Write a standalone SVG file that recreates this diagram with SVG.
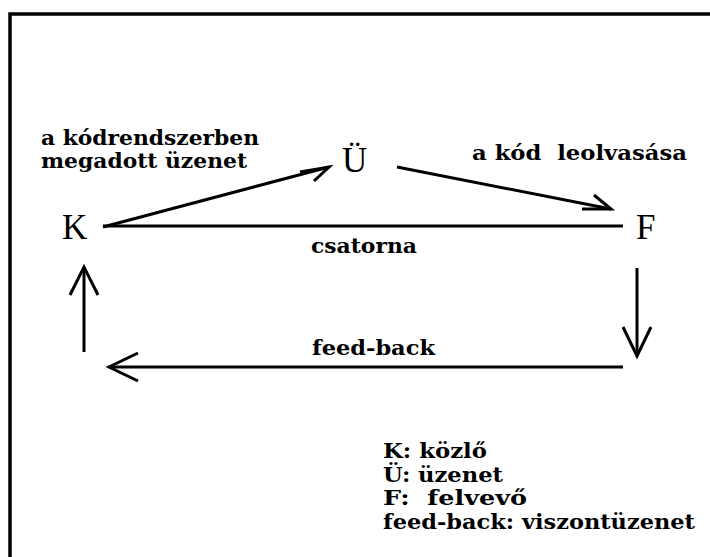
<svg xmlns="http://www.w3.org/2000/svg" width="710" height="557" viewBox="0 0 710 557">
<style>
.node{font-family:"Liberation Serif","Times New Roman",serif;font-size:35px;fill:#000}
.lbl{font-family:"DejaVu Serif",serif;font-weight:bold;font-size:19.5px;fill:#000;white-space:pre}
.ln{stroke:#000;stroke-width:3;fill:none;stroke-linecap:butt}
</style>
<rect width="710" height="557" fill="#fff"/>
<path d="M10 557 V14 H710" fill="none" stroke="#000" stroke-width="3.5"/>
<g id="connectors">
<g id="k-u"><line class="ln" x1="103" y1="227" x2="329" y2="167"/><polyline class="ln" points="300,172 329,167 314,181"/></g>
<g id="u-f"><line class="ln" x1="397" y1="167" x2="611" y2="209"/><polyline class="ln" points="594,195 611,209 582,209"/></g>
<g id="csatorna"><line class="ln" x1="103" y1="226" x2="623" y2="226"/></g>
<g id="f-down"><line class="ln" x1="637" y1="268" x2="637" y2="356"/><polyline class="ln" points="623,327 637,356 651,327"/></g>
<g id="feedback"><line class="ln" x1="623" y1="367" x2="109" y2="367"/><polyline class="ln" points="138,353 109,367 138,381"/></g>
<g id="k-up"><line class="ln" x1="84" y1="352" x2="84" y2="267"/><polyline class="ln" points="70,295 84,267 98,295"/></g>
</g>
<g id="node-K"><text class="node" x="62" y="239">K</text></g>
<g id="node-U"><text class="node" x="342" y="172">Ü</text></g>
<g id="node-F"><text class="node" x="636" y="239">F</text></g>
<g id="labels">
<text class="lbl" x="41" y="145" textLength="218" lengthAdjust="spacingAndGlyphs">a kódrendszerben</text>
<text class="lbl" x="41" y="168" textLength="206" lengthAdjust="spacingAndGlyphs">megadott üzenet</text>
<text class="lbl" x="472" y="160" textLength="215" lengthAdjust="spacingAndGlyphs">a kód  leolvasása</text>
<text class="lbl" x="311" y="253" textLength="106" lengthAdjust="spacingAndGlyphs">csatorna</text>
<text class="lbl" x="312" y="355" textLength="123" lengthAdjust="spacingAndGlyphs">feed-back</text>
</g>
<g id="legend">
<text class="lbl" x="383" y="458" textLength="104" lengthAdjust="spacingAndGlyphs">K: közlő</text>
<text class="lbl" x="383" y="482" textLength="120" lengthAdjust="spacingAndGlyphs">Ü: üzenet</text>
<text class="lbl" x="383" y="505" textLength="144" lengthAdjust="spacingAndGlyphs">F:  felvevő</text>
<text class="lbl" x="383" y="529" textLength="312" lengthAdjust="spacingAndGlyphs">feed-back: viszontüzenet</text>
</g>
</svg>
